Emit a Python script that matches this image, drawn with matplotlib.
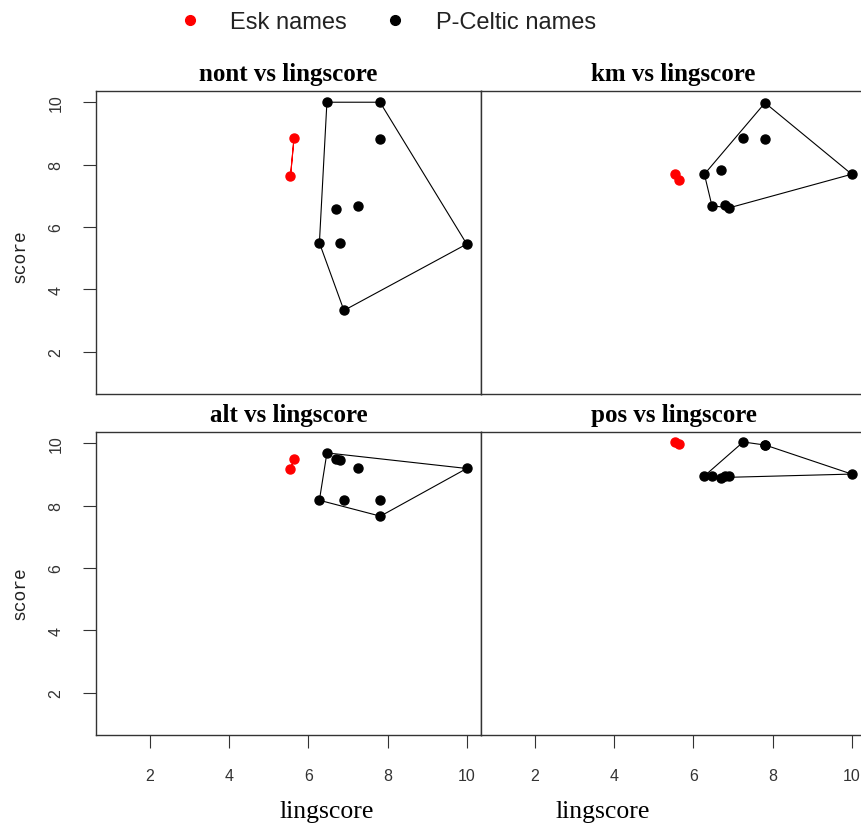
import matplotlib
matplotlib.use("Agg")
import matplotlib.pyplot as plt
from matplotlib import font_manager
from matplotlib.lines import Line2D

# ---- data ----
celtic_ling = [6.28, 6.47, 6.70, 6.80, 6.90, 7.26, 7.81, 7.82, 10.0]
celtic_nont = [5.49, 10.0, 6.56, 5.49, 3.32, 6.68, 10.0, 8.81, 5.45]
celtic_km = [7.69, 6.68, 7.81, 6.69, 6.61, 8.86, 9.98, 8.81, 7.69]
celtic_alt = [8.17, 9.69, 9.48, 9.46, 8.17, 9.19, 8.17, 7.66, 9.19]
celtic_pos = [8.95, 8.95, 8.90, 8.95, 8.95, 10.04, 9.94, 9.94, 9.01]

esk_ling = [5.55, 5.64]
esk_nont = [7.62, 8.86]
esk_km = [7.69, 7.52]
esk_alt = [9.18, 9.48]
esk_pos = [10.04, 9.96]

panel_titles = ["nont vs lingscore", "km vs lingscore", "alt vs lingscore", "pos vs lingscore"]
x_ticks = [2, 4, 6, 8, 10]
y_ticks = [2, 4, 6, 8, 10]
legend_labels = ["Esk names", "P-Celtic names"]


def hull(xs, ys):
    pts = sorted(set(zip(xs, ys)))
    if len(pts) <= 2:
        return pts

    def cross(o, a, b):
        return (a[0] - o[0]) * (b[1] - o[1]) - (a[1] - o[1]) * (b[0] - o[0])

    lower = []
    for p in pts:
        while len(lower) >= 2 and cross(lower[-2], lower[-1], p) <= 0:
            lower.pop()
        lower.append(p)
    upper = []
    for p in reversed(pts):
        while len(upper) >= 2 and cross(upper[-2], upper[-1], p) <= 0:
            upper.pop()
        upper.append(p)
    return lower[:-1] + upper[:-1]


names = {f.name for f in font_manager.fontManager.ttflist}
tick_font = "Liberation Sans Narrow" if "Liberation Sans Narrow" in names else "Liberation Sans"
mono_font = "Liberation Mono" if "Liberation Mono" in names else "DejaVu Sans Mono"
serif = "Liberation Serif"

W, H = 862, 828
fig = plt.figure(figsize=(W / 100, H / 100), dpi=100)

ax_w = 385 / W
ax_h = 303 / H
lefts = [96 / W, 481 / W]
bottoms = [1 - 395 / H, 1 - 736 / H]

celtic_sets = [celtic_nont, celtic_km, celtic_alt, celtic_pos]
esk_sets = [esk_nont, esk_km, esk_alt, esk_pos]
xlabel_x = [0.60, 0.317]
ylabel_y = [0.459, 0.47]

for i in range(4):
    r, c = divmod(i, 2)
    ax = fig.add_axes([lefts[c], bottoms[r], ax_w, ax_h])
    ax.set_xlim(0.64, 10.36)
    ax.set_ylim(0.64, 10.36)
    for s in ax.spines.values():
        s.set_color("#333333")
        s.set_linewidth(1.0)

    # convex hulls
    for xs, ys, col in [(celtic_ling, celtic_sets[i], "black"), (esk_ling, esk_sets[i], "red")]:
        h = hull(xs, ys)
        hx = [p[0] for p in h] + [h[0][0]]
        hy = [p[1] for p in h] + [h[0][1]]
        ax.plot(hx, hy, color=col, lw=0.8, zorder=2)
    ax.plot(celtic_ling, celtic_sets[i], "o", color="black", ms=6.5, zorder=3)
    ax.plot(esk_ling, esk_sets[i], "o", color="red", ms=6.5, zorder=3)

    ax.set_title(panel_titles[i], family=serif, fontweight="bold", fontsize=18, pad=8)

    ax.set_xticks(x_ticks)
    ax.set_yticks(y_ticks)
    ax.tick_params(direction="out", length=9.5, width=0.8, color="#333333",
                   labelsize=11.5, pad=14)
    if r == 1:
        ax.set_xticklabels([str(v) for v in x_ticks], family=tick_font, color="#333333")
        ax.set_xlabel("lingscore", family=serif, fontsize=18.5, va="baseline")
        ax.xaxis.set_label_coords(xlabel_x[c], -0.271)
    else:
        ax.tick_params(axis="x", bottom=False, labelbottom=False)
    if c == 0:
        ax.set_yticklabels([str(v) for v in y_ticks], family=tick_font, rotation=90,
                           va="center", color="#333333")
        ax.set_ylabel("score", family=mono_font, fontsize=13, va="center", color="#222222")
        ax.yaxis.set_label_coords(-0.197, ylabel_y[r])
    else:
        ax.tick_params(axis="y", left=False, labelleft=False)

handles = [Line2D([], [], marker="o", ls="", color="red", ms=7),
           Line2D([], [], marker="o", ls="", color="black", ms=7)]
fig.legend(handles, legend_labels, loc="center", bbox_to_anchor=(387 / W, 1 - 23 / H),
           ncol=2, frameon=False, prop={"family": "Liberation Sans", "size": 17},
           handlelength=1.0, handletextpad=1.2, columnspacing=1.55,
           labelcolor="#222222")

fig.savefig("out.png", dpi=100)
